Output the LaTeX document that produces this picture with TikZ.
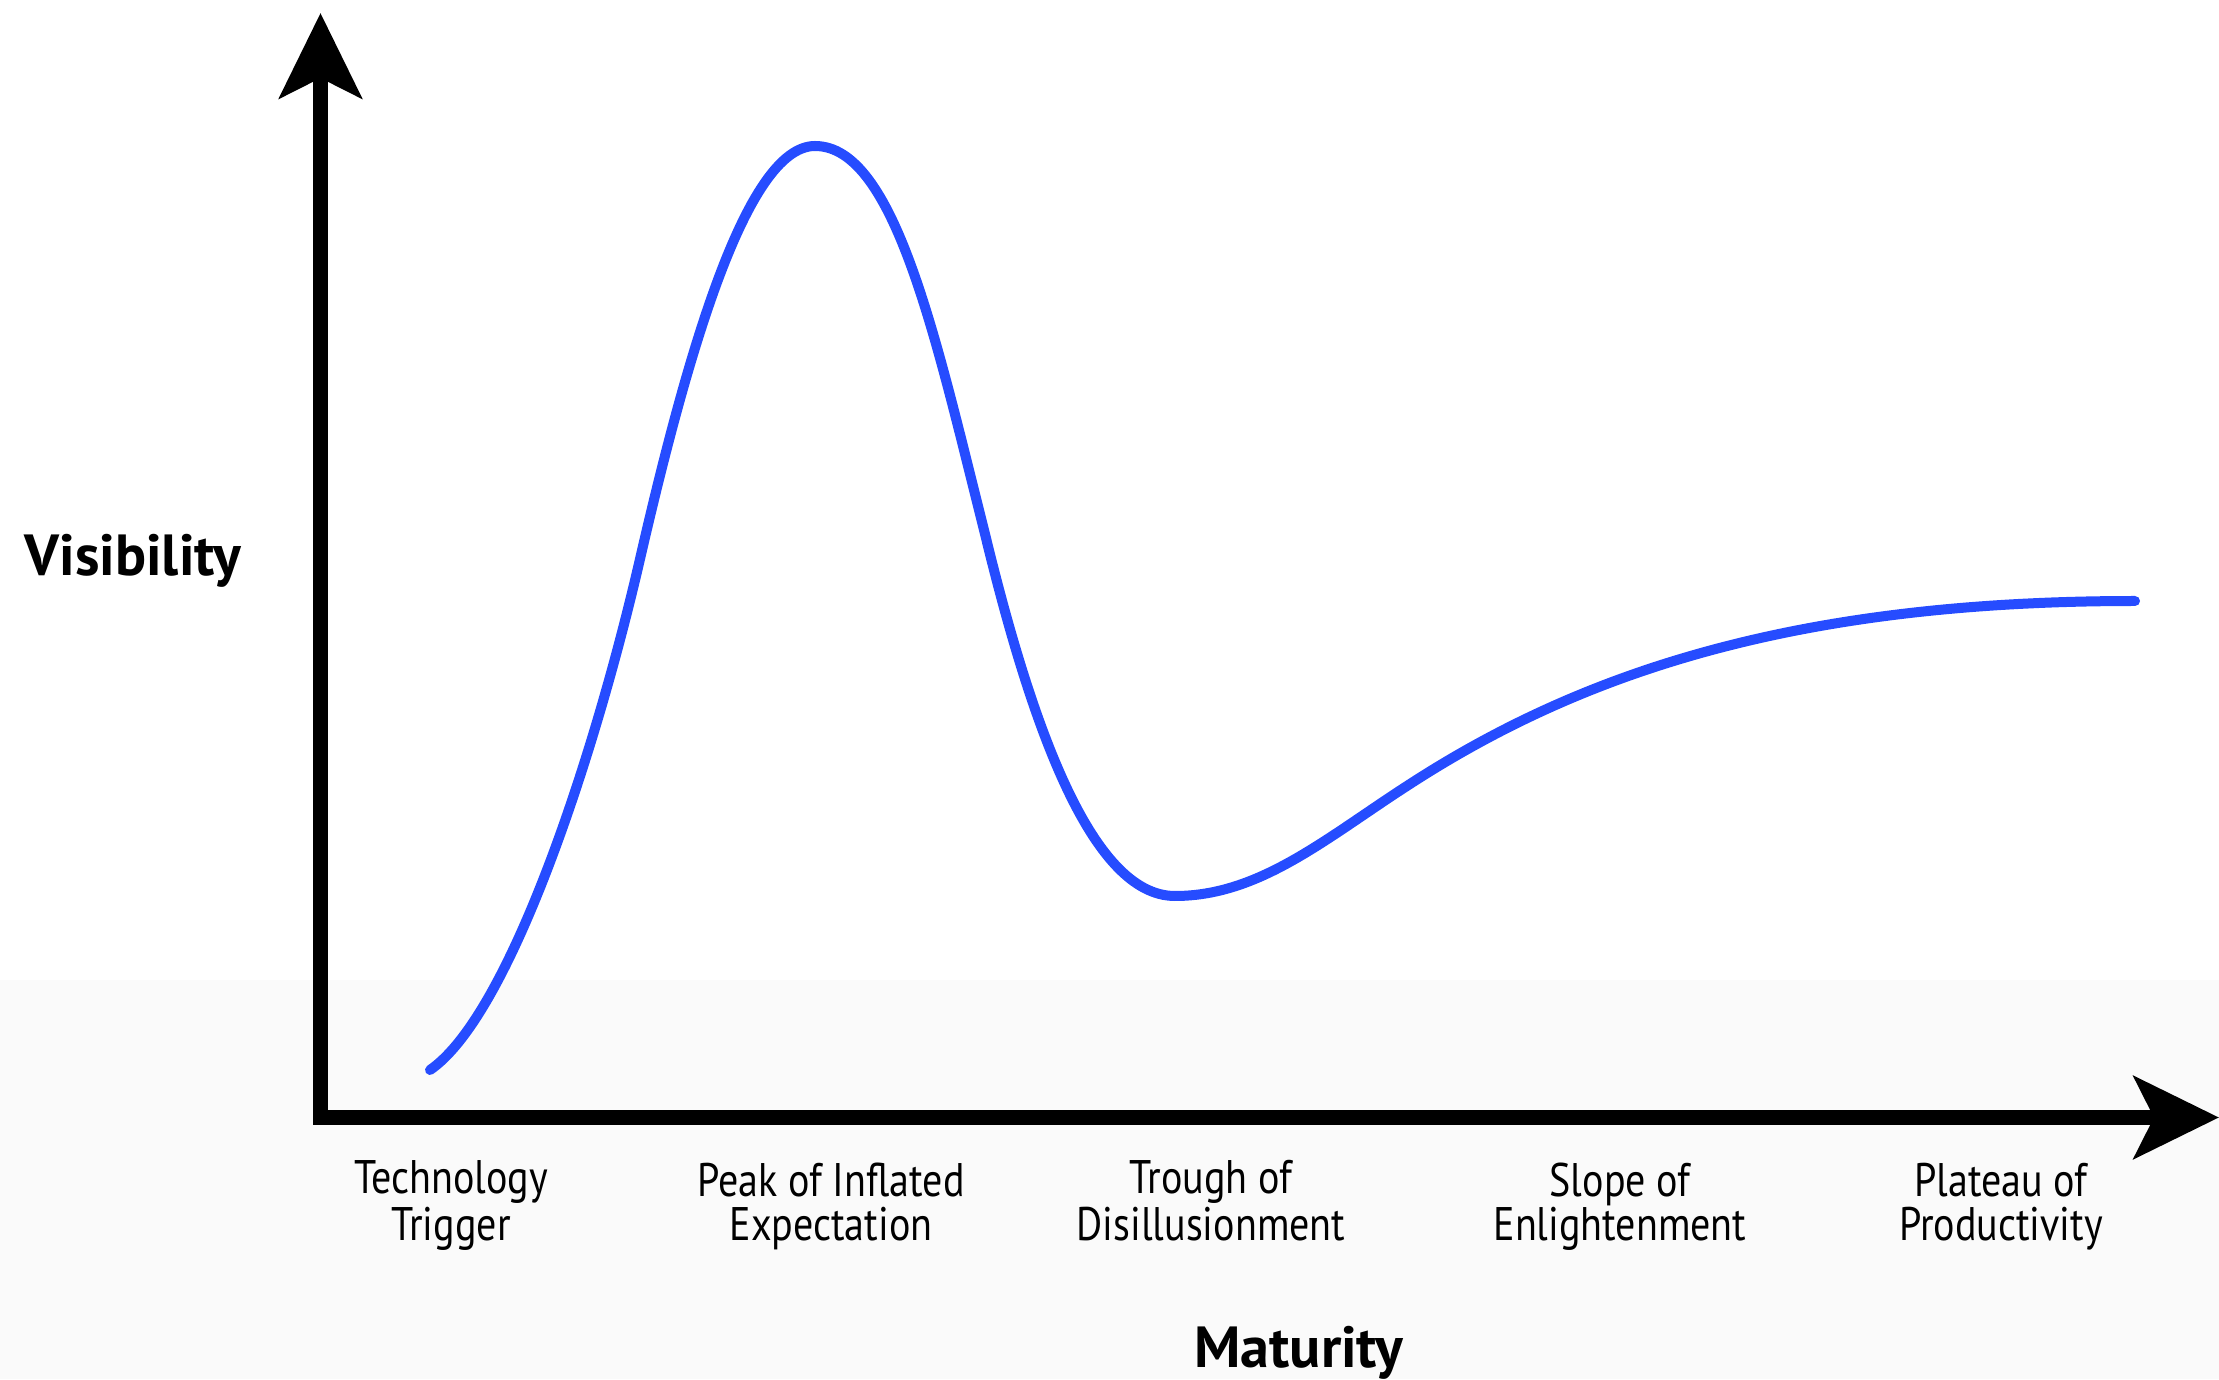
\documentclass[tikz,border=0pt]{standalone}
\usepackage{fontspec}
\setmainfont{PT Sans}
\newfontfamily\stagefont[FakeStretch=0.85]{PT Sans}
\usetikzlibrary{arrows.meta,positioning}
\definecolor{hypeblue}{RGB}{38,76,255}

\begin{document}
\begin{tikzpicture}
  [>={Stealth[length=8.5mm,width=8.2mm,inset=2mm]},%设置箭头样式
   axis/.style={line width=1.5mm,line join=miter,<->},%坐标轴:粗黑线,两端箭头
   hype/.style={line width=1mm,draw=hypeblue,line cap=round},%蓝色曲线
   axis label/.style={font=\fontsize{16.5}{18}\selectfont\bfseries,anchor=base,inner sep=0pt},%坐标轴名称
   stage/.style={font=\stagefont\fontsize{13.4}{12.3}\selectfont,align=center,anchor=base,inner sep=0pt}]%阶段名称,anchor=base 取最后一行基线

  \useasboundingbox (0,0) rectangle (22.19,13.79);
  \fill[black!2] (0,0) rectangle (22.19,3.99);%下方淡灰色背景

  % 坐标轴
  \coordinate (top)   at (3.205,13.66);
  \coordinate (O)     at (3.205,2.615);
  \coordinate (right) at (22.19,2.615);
  \draw[axis] (top) -- (O) -- (right);

  % 曲线:起点 -> 峰值 -> 谷底 -> 平台
  \coordinate (start)   at (4.30,3.09);
  \coordinate (peaktop) at (8.15,12.33);
  \coordinate (low)     at (11.75,4.83);
  \coordinate (finish)  at (21.35,7.78);
  \draw[hype] (start)
    .. controls (5.10,3.64) and (5.95,6.25) .. (6.40,8.20)
    .. controls (6.85,10.15) and (7.45,12.33) .. (peaktop)
    .. controls (8.95,12.33) and (9.36,10.39) .. (9.85,8.45)
    .. controls (10.30,6.60) and (10.90,4.83) .. (low)
    .. controls (12.60,4.83) and (13.26,5.41) .. (14.10,5.95)
    .. controls (15.86,7.09) and (18.00,7.78) .. (finish);

  \node[axis label] (vis) at (1.33,8.03)  {Visibility};
  \node[axis label] (mat) at (12.99,0.12) {Maturity};

  % 五个阶段
  \node[stage] (trigger) at (4.51,1.39)  {Technology\\Trigger};
  \node[stage] (peak)    at (8.31,1.39)  {Peak of Inflated\\Expectation};
  \node[stage] (trough)  at (12.11,1.39) {Trough of\\Disillusionment};
  \node[stage] (slope)   at (16.20,1.39) {Slope of\\Enlightenment};
  \node[stage] (plateau) at (20.01,1.39) {Plateau of\\Productivity};
\end{tikzpicture}
\end{document}
